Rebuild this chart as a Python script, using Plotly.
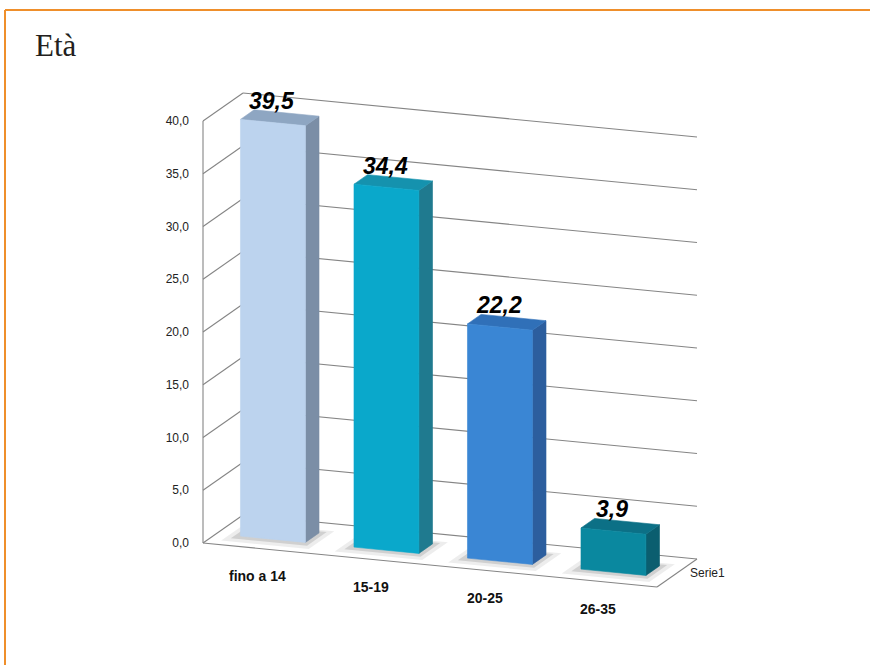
import plotly.graph_objects as go

# ---------------- data ----------------
categories = ["fino a 14", "15-19", "20-25", "26-35"]
values = [39.5, 34.4, 22.2, 3.9]
series_name = "Serie1"
tick_values = [0, 5, 10, 15, 20, 25, 30, 35, 40]
chart_title = "Età"

# ---------------- styles ----------------
front_colors = ["#BCD3EE", "#0AA8CB", "#3A86D4", "#0A889F"]
side_colors = ["#7B8EA6", "#1F7A8F", "#2C5E9E", "#0B5E6F"]
top_colors = ["#8EA6C2", "#1592AE", "#3070B8", "#0C7086"]
GRID_COLOR = "#858585"
FRAME_COLOR = "#EF8F2B"

W, H = 870, 665
ORIGIN_PX = (203, 543)      # screen position of the front-left floor corner
CAT_PX = 113.5              # pixels per category along the floor
VAL_PX = 10.55              # pixels per value unit
DEPTH_PX = (40, -28)        # screen offset of full depth
SLOPE_PX = 11.0             # floor drop per category (pixels)
BAR_U = (0.214, 0.786)      # bar extent within a category
BAR_W = (0.33, 0.67)        # bar extent in depth
N = len(categories)

dx = DEPTH_PX[0] / CAT_PX
dy = -DEPTH_PX[1] / VAL_PX
slope = SLOPE_PX / VAL_PX


def proj(u, w, v):
    """oblique projection of (category, depth, value) into axis units"""
    return u + w * dx, v - u * slope + w * dy


def poly(points, color, opacity=1.0, width=0.6):
    xs, ys = zip(*[proj(*p) for p in points])
    xs = list(xs) + [xs[0]]
    ys = list(ys) + [ys[0]]
    return go.Scatter(x=xs, y=ys, mode="lines", fill="toself", fillcolor=color,
                      line=dict(color=color, width=width), opacity=opacity,
                      hoverinfo="skip", showlegend=False)


fig = go.Figure()

# ---- walls / grid ----
gx, gy = [], []
for v in tick_values:
    for a, b in [((0, 0, v), (0, 1, v)), ((0, 1, v), (N, 1, v))]:
        p, q = proj(*a), proj(*b)
        gx += [p[0], q[0], None]
        gy += [p[1], q[1], None]
for a, b in [((0, 0, 0), (N, 0, 0)), ((N, 0, 0), (N, 1, 0)),
             ((0, 0, 0), (0, 0, max(tick_values)))]:
    p, q = proj(*a), proj(*b)
    gx += [p[0], q[0], None]
    gy += [p[1], q[1], None]
fig.add_trace(go.Scatter(x=gx, y=gy, mode="lines",
                         line=dict(color=GRID_COLOR, width=1.1),
                         hoverinfo="skip", showlegend=False))

# ---- bars ----
for i, val in enumerate(values):
    u0, u1 = i + BAR_U[0], i + BAR_U[1]
    w0, w1 = BAR_W
    # soft shadow on the floor
    for grow, op in [(0.10, 0.07), (0.05, 0.12)]:
        fig.add_trace(poly([(u0 - grow, w0 - 2 * grow, 0), (u1 + grow, w0 - 2 * grow, 0),
                            (u1 + grow, w1 + grow, 0), (u0 - grow, w1 + grow, 0)],
                           "#000000", opacity=op, width=0))
    # side face
    fig.add_trace(poly([(u1, w0, 0), (u1, w1, 0), (u1, w1, val), (u1, w0, val)],
                       side_colors[i]))
    # top face
    fig.add_trace(poly([(u0, w0, val), (u1, w0, val), (u1, w1, val), (u0, w1, val)],
                       top_colors[i]))
    # front face
    fig.add_trace(poly([(u0, w0, 0), (u1, w0, 0), (u1, w0, val), (u0, w0, val)],
                       front_colors[i]))

annotations = []
# data labels
for i, val in enumerate(values):
    x, y = proj(i + 0.5, 0.5, val)
    annotations.append(dict(
        x=x, y=y, xref="x", yref="y", showarrow=False,
        text=f"{val:.1f}".replace(".", ","), xshift=-8, yshift=17,
        xanchor="center", yanchor="middle",
        font=dict(family="Liberation Sans, Arial, sans-serif", size=23,
                  color="#000000", weight="bold", style="italic")))
# category labels
for i, cat in enumerate(categories):
    x, y = proj(i + 0.5, 0, 0)
    annotations.append(dict(
        x=x, y=y, xref="x", yref="y", showarrow=False, text=cat,
        xshift=-2, yshift=-27, xanchor="center", yanchor="middle",
        font=dict(family="Liberation Sans, Arial, sans-serif", size=14,
                  color="#111111", weight="bold")))
# series (depth) label
x, y = proj(N, 0.5, 0)
annotations.append(dict(
    x=x, y=y, xref="x", yref="y", showarrow=False, text=series_name,
    xshift=11, yshift=0, xanchor="left", yanchor="middle",
    font=dict(family="Liberation Sans, Arial, sans-serif", size=12, color="#222222")))
# title
annotations.append(dict(
    x=33 / W, y=1 - 45 / H, xref="paper", yref="paper", showarrow=False,
    text=chart_title, xanchor="left", yanchor="middle",
    font=dict(family="Liberation Serif, DejaVu Serif, serif", size=31, color="#231F20")))

shapes = [
    dict(type="line", xref="paper", yref="paper", x0=5 / W, x1=1.01,
         y0=1 - 10 / H, y1=1 - 10 / H, line=dict(color=FRAME_COLOR, width=2)),
    dict(type="line", xref="paper", yref="paper", x0=5 / W, x1=5 / W,
         y0=-0.01, y1=1 - 10 / H, line=dict(color=FRAME_COLOR, width=2)),
]

fig.update_layout(
    width=W, height=H,
    margin=dict(l=0, r=0, t=0, b=0),
    paper_bgcolor="white", plot_bgcolor="white",
    separators=",.",
    showlegend=False,
    xaxis=dict(range=[-ORIGIN_PX[0] / CAT_PX, (W - ORIGIN_PX[0]) / CAT_PX],
               domain=[0, 1], visible=False, fixedrange=True),
    yaxis=dict(range=[-(H - ORIGIN_PX[1]) / VAL_PX, ORIGIN_PX[1] / VAL_PX],
               domain=[0, 1], anchor="free", position=ORIGIN_PX[0] / W,
               tickvals=tick_values, tickformat=".1f", ticks="",
               showgrid=False, zeroline=False, showline=False,
               ticklabelstandoff=14, automargin=False, fixedrange=True,
               tickfont=dict(family="Liberation Sans, Arial, sans-serif",
                             size=12, color="#222222")),
    annotations=annotations,
    shapes=shapes,
)

fig.write_html("out.html")
